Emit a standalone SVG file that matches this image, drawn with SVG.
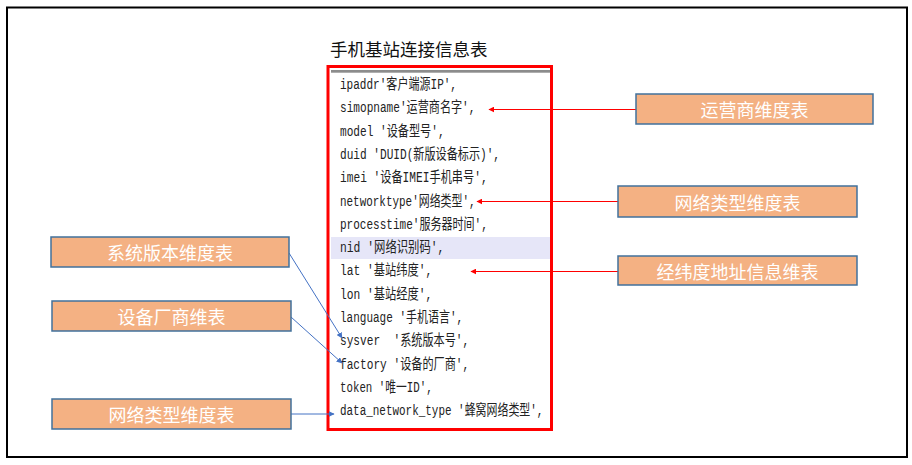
<svg xmlns="http://www.w3.org/2000/svg" width="912" height="465" viewBox="0 0 912 465">
<defs>
<style>
.frame{fill:none;stroke:#000;stroke-width:2}
.box{fill:#F4B183;stroke:#41719C;stroke-width:1.5}
.lbl{font-family:"Noto Sans CJK SC","Noto Sans",sans-serif;font-size:18px;fill:#fff;text-anchor:middle;dominant-baseline:central}
.row{font-family:"Liberation Mono","Noto Sans CJK SC",monospace;font-size:14.5px;fill:#222}
.red{stroke:#FF0000;stroke-width:1;fill:none}
.blue{stroke:#4472C4;stroke-width:1;fill:none}
</style>
<marker id="ar" viewBox="0 0 10 10" refX="9" refY="5" markerWidth="6" markerHeight="6" orient="auto" markerUnits="userSpaceOnUse"><path d="M0,0L10,5L0,10z" fill="#FF0000"/></marker>
<marker id="ab" viewBox="0 0 10 10" refX="9" refY="5" markerWidth="6" markerHeight="6" orient="auto" markerUnits="userSpaceOnUse"><path d="M0,0L10,5L0,10z" fill="#4472C4"/></marker>
</defs>
<rect width="912" height="465" fill="#fff"/>
<rect class="frame" x="7" y="7.5" width="900" height="449.5"/>
<g id="table">
<text x="330" y="56" font-family="'Noto Sans CJK SC',sans-serif" font-size="17.5" fill="#111">手机基站连接信息表</text>
<rect x="331" y="237" width="219" height="22" fill="#E6E6F8"/>
<rect x="331" y="70" width="219" height="2.7" fill="#8c8c8c"/>
<rect x="328" y="66.5" width="223.5" height="363" fill="none" stroke="#FF0000" stroke-width="3"/>
<text class="row" x="340" y="89" textLength="117" lengthAdjust="spacingAndGlyphs">ipaddr'客户端源IP',</text>
<text class="row" x="340" y="112.3" textLength="135.4" lengthAdjust="spacingAndGlyphs">simopname'运营商名字',</text>
<text class="row" x="340" y="135.6" textLength="104.6" lengthAdjust="spacingAndGlyphs">model '设备型号',</text>
<text class="row" x="340" y="158.9" textLength="160" lengthAdjust="spacingAndGlyphs">duid 'DUID(新版设备标示)',</text>
<text class="row" x="340" y="182.2" textLength="147.6" lengthAdjust="spacingAndGlyphs">imei '设备IMEI手机串号',</text>
<text class="row" x="340" y="205.5" textLength="135.6" lengthAdjust="spacingAndGlyphs">networktype'网络类型',</text>
<text class="row" x="340" y="228.8" textLength="147.8" lengthAdjust="spacingAndGlyphs">processtime'服务器时间',</text>
<text class="row" x="340" y="252.1" textLength="104.4" lengthAdjust="spacingAndGlyphs">nid '网络识别码',</text>
<text class="row" x="340" y="275.4" textLength="92.2" lengthAdjust="spacingAndGlyphs">lat '基站纬度',</text>
<text class="row" x="340" y="298.7" textLength="92.2" lengthAdjust="spacingAndGlyphs">lon '基站经度',</text>
<text class="row" x="340" y="322" textLength="123.2" lengthAdjust="spacingAndGlyphs">language '手机语言',</text>
<text class="row" x="340" y="345.3" textLength="129.2" lengthAdjust="spacingAndGlyphs" xml:space="preserve">sysver  '系统版本号',</text>
<text class="row" x="340" y="368.6" textLength="129.2" lengthAdjust="spacingAndGlyphs">factory '设备的厂商',</text>
<text class="row" x="340" y="391.9" textLength="92.6" lengthAdjust="spacingAndGlyphs">token '唯一ID',</text>
<text class="row" x="340" y="415.2" textLength="203.4" lengthAdjust="spacingAndGlyphs">data_network_type '蜂窝网络类型',</text>
</g>
<g id="connectors">
<line class="red" x1="636" y1="109.5" x2="489" y2="109.5" marker-end="url(#ar)"/>
<line class="red" x1="618" y1="201.5" x2="477" y2="201.5" marker-end="url(#ar)"/>
<line class="red" x1="618" y1="271.5" x2="471" y2="271.5" marker-end="url(#ar)"/>
<line class="blue" x1="289" y1="253" x2="342" y2="338" marker-end="url(#ab)"/>
<line class="blue" x1="291" y1="317" x2="342" y2="363" marker-end="url(#ab)"/>
<line class="blue" x1="291" y1="414" x2="334" y2="414" marker-end="url(#ab)"/>
</g>
<g id="n-operator"><rect class="box" x="636" y="94" width="237" height="30"/><text class="lbl" x="754.5" y="109">运营商维度表</text></g>
<g id="n-nettype-r"><rect class="box" x="618" y="186" width="239" height="31"/><text class="lbl" x="737.5" y="201.5">网络类型维度表</text></g>
<g id="n-geo"><rect class="box" x="618" y="256" width="239" height="29"/><text class="lbl" x="737.5" y="270.5">经纬度地址信息维表</text></g>
<g id="n-sysver"><rect class="box" x="51" y="237" width="238" height="30"/><text class="lbl" x="170" y="252">系统版本维度表</text></g>
<g id="n-vendor"><rect class="box" x="52" y="301" width="239" height="30"/><text class="lbl" x="171.5" y="316">设备厂商维表</text></g>
<g id="n-nettype-l"><rect class="box" x="52" y="399" width="239" height="30"/><text class="lbl" x="171.5" y="414">网络类型维度表</text></g>
</svg>
